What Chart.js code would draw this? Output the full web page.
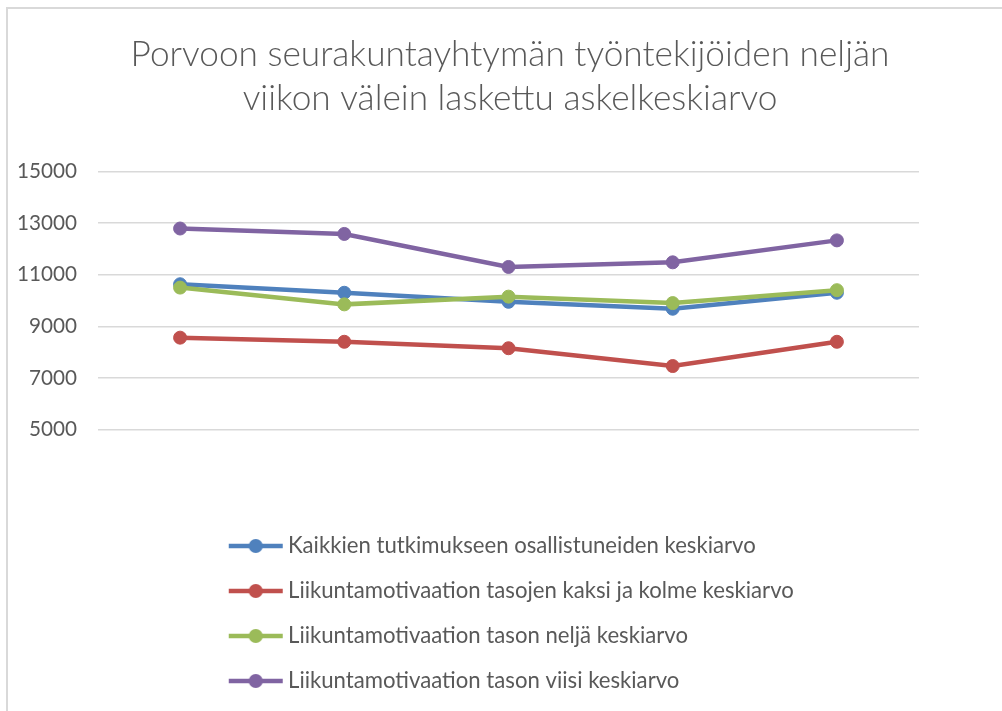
<!DOCTYPE html>
<html>
<head>
<meta charset="utf-8">
<script src="https://cdn.jsdelivr.net/npm/chart.js@4.4.1/dist/chart.umd.min.js"></script>
<style>
  html, body { margin: 0; padding: 0; background: #fff; overflow: hidden; width: 1002px; height: 711px; }
  #wrap { position: absolute; left: 0; top: 0; width: 1002px; height: 730px; }
  #frame { position: absolute; left: 6px; top: 7px; width: 1100px; height: 800px;
           border-top: 2px solid #d9d9d9; border-left: 2px solid #d9d9d9; pointer-events: none; }
</style>
</head>
<body>
<div id="wrap"><canvas id="c" width="1002" height="730"></canvas></div>
<div id="frame"></div>
<script>
// ---- data ----
const titleLines = ['Porvoon seurakuntayhtymän työntekijöiden neljän', 'viikon välein laskettu askelkeskiarvo'];
const categories = ['1', '2', '3', '4', '5'];
const seriesNames = [
  'Kaikkien tutkimukseen osallistuneiden keskiarvo',
  'Liikuntamotivaation tasojen kaksi ja kolme keskiarvo',
  'Liikuntamotivaation tason neljä keskiarvo',
  'Liikuntamotivaation tason viisi keskiarvo'
];
const allAverage = [10630, 10300, 9950, 9680, 10300];
const levelTwoThree = [8560, 8400, 8150, 7460, 8400];
const levelFour = [10500, 9850, 10150, 9900, 10400];
const levelFive = [12790, 12580, 11300, 11480, 12330];
const yTicks = [5000, 7000, 9000, 11000, 13000, 15000];

// ---- styling ----
const colors = ['#4F81BD', '#C0504D', '#9BBB59', '#8064A2'];
const textColor = '#595959';
const fam = 'Lato, "Open Sans", sans-serif';

function fitSize(text, weight, target) {
  const ctx = document.createElement('canvas').getContext('2d');
  ctx.font = weight + ' 100px ' + fam;
  return 100 * target / ctx.measureText(text).width;
}
const titleSize = fitSize(titleLines[0], '300', 759);
const legendSize = fitSize(seriesNames[0], '400', 468);
const tickSize = fitSize('15000', '400', 60);

const CANVAS_H = 730;
const ROW = 45;                       // legend row pitch
const LEG_PAD = ROW - legendSize;     // labels.padding
const legendTop = 546 - LEG_PAD - legendSize / 2;
const legendH = 4 * ROW + 10;
const bottomPad = CANVAS_H - (legendTop + legendH);
const xAxisH = legendTop - 429.5;
const markerW = 2 * (288 - 255.7) - legendSize;   // pointStyleWidth
const legendX = 255.7 - markerW / 2;

function legendMarker(color) {
  const cv = document.createElement('canvas');
  cv.width = 56; cv.height = 16;
  const g = cv.getContext('2d');
  g.strokeStyle = color; g.lineWidth = 4.5;
  g.beginPath(); g.moveTo(1, 8); g.lineTo(55, 8); g.stroke();
  g.fillStyle = color;
  g.beginPath(); g.arc(28, 8, 7, 0, Math.PI * 2); g.fill();
  return cv;
}

const seriesData = [allAverage, levelTwoThree, levelFour, levelFive];
const drawOrder = [4, 3, 2, 1];
const datasets = seriesData.map((d, i) => ({
  label: seriesNames[i],
  data: d,
  borderColor: colors[i],
  backgroundColor: colors[i],
  borderWidth: 4.5,
  pointRadius: 6.5,
  pointBorderWidth: 1,
  pointBackgroundColor: colors[i],
  pointBorderColor: colors[i],
  pointStyle: 'circle',
  tension: 0,
  order: drawOrder[i],
  legendMarker: legendMarker(colors[i])
}));

const legendShift = {
  id: 'legendShift',
  afterLayout(chart) {
    const lg = chart.legend;
    if (lg) { lg.left = legendX - LEG_PAD; }
  }
};

new Chart(document.getElementById('c'), {
  type: 'line',
  data: { labels: categories, datasets },
  plugins: [legendShift],
  options: {
    responsive: false,
    animation: false,
    devicePixelRatio: 1,
    layout: { padding: { left: 18, right: 0, top: 0, bottom: bottomPad } },
    plugins: {
      tooltip: { enabled: false },
      title: {
        display: true,
        text: titleLines,
        color: textColor,
        font: { family: fam, size: titleSize, weight: '300', lineHeight: '44px' },
        padding: { top: 33, bottom: 50.5 }
      },
      legend: {
        position: 'bottom',
        align: 'start',
        fullSize: false,
        labels: {
          color: textColor,
          font: { family: fam, size: legendSize },
          padding: LEG_PAD,
          usePointStyle: true,
          pointStyleWidth: markerW,
          sort: (a, b) => a.datasetIndex - b.datasetIndex,
          generateLabels(chart) {
            return chart.data.datasets.map((ds, i) => ({
              text: ds.label,
              datasetIndex: i,
              pointStyle: ds.legendMarker,
              fillStyle: ds.borderColor,
              strokeStyle: ds.borderColor,
              lineWidth: 0,
              fontColor: textColor,
              hidden: false
            }));
          }
        }
      }
    },
    scales: {
      x: {
        offset: true,
        grid: { display: false },
        border: { display: false },
        ticks: { display: false },
        afterFit(scale) { scale.height = xAxisH; }
      },
      y: {
        min: 5000,
        max: 15000,
        grid: { color: '#d9d9d9', lineWidth: 1.5, drawTicks: false },
        border: { display: false },
        ticks: {
          color: textColor,
          padding: 21,
          font: { family: fam, size: tickSize },
          callback: (v) => String(v)
        },
        afterBuildTicks(scale) { scale.ticks = yTicks.map(v => ({ value: v })); },
        afterFit(scale) { scale.width = 80; }
      },
      yRight: {
        position: 'right',
        display: true,
        grid: { display: false },
        border: { display: false },
        ticks: { display: false },
        afterFit(scale) { scale.width = 83; }
      }
    }
  }
});
</script>
</body>
</html>
